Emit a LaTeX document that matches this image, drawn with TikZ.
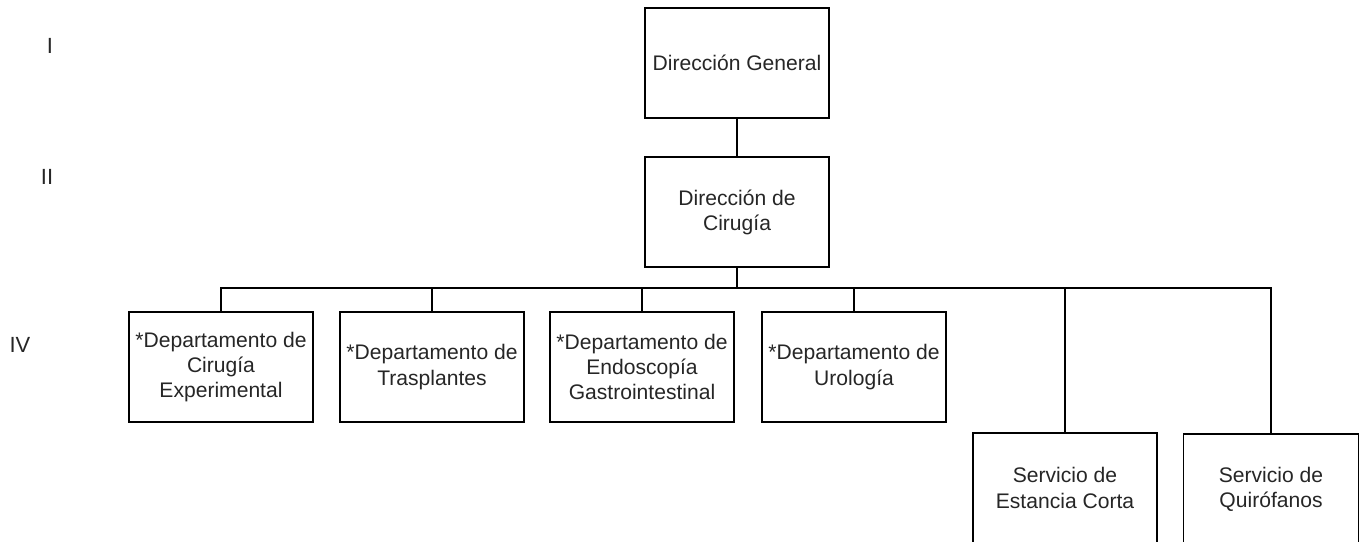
\documentclass[tikz,border=0pt]{standalone}
\usepackage{fontspec}
\setmainfont{Liberation Sans}
\usetikzlibrary{positioning}

\begin{document}
\begin{tikzpicture}[x=0.02cm, y=-0.02cm,
  every node/.style = {font=\fontsize{12}{14.3}\selectfont, text=black!85},
  unit/.style = {shape=rectangle, draw, line width=0.8pt, align=center,
    minimum width=184*0.02cm, minimum height=110*0.02cm, inner sep=2pt},
  level/.style = {inner sep=0pt, font=\fontsize{12.5}{14}\selectfont}]
	\useasboundingbox (0,0) rectangle (1372,541);
	\node[level] (lI) at (50,46) {I};
	\node[level] (lII) at (47,177) {II};
	\node[level] (lIV) at (20,345) {IV};
	\node[unit] (dg) at (737,63) {Dirección General};
	\node[unit] (dc) at (737,212) {Dirección de\\Cirugía};
	\node[unit] (d1) at (221,367) {*Departamento de\\Cirugía\\Experimental};
	\node[unit] (d2) at (432,367) {*Departamento de\\Trasplantes};
	\node[unit] (d3) at (642,367) {*Departamento de\\Endoscopía\\Gastrointestinal};
	\node[unit] (d4) at (854,367) {*Departamento de\\Urología};
	\node[unit] (s1) at (1065,488) {Servicio de\\Estancia Corta};
	\node[unit, minimum width=175*0.02cm] (s2) at (1271,489) {Servicio de\\Quirófanos};
	\coordinate (bus) at (737,288);
	\begin{scope}[line width=0.8pt]
		\draw (dg) -- (dc);
		\draw (dc) -- (bus);
		\draw (d1.north) |- (bus) -| (s2.north);
		\foreach \u in {d2,d3,d4,s1}
			\draw (\u.north) -- (\u.north |- bus);
	\end{scope}
\end{tikzpicture}
\end{document}
